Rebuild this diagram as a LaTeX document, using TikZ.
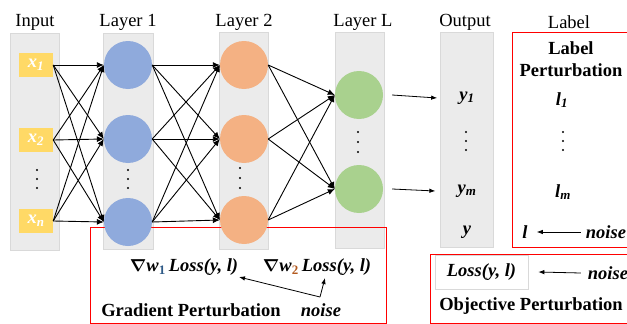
\documentclass[tikz,border=0pt]{standalone}
\usepackage{fontspec}
\setmainfont{Liberation Serif}
\usepackage{bm}
\usetikzlibrary{arrows}
\usetikzlibrary{arrows.meta}
\usetikzlibrary{shapes.geometric}

\definecolor{colfill}{HTML}{EBEBEB}
\definecolor{colline}{HTML}{D9D9D9}
\definecolor{inyellow}{HTML}{FFD966}
\definecolor{lblue}{HTML}{8FAADC}
\definecolor{lorange}{HTML}{F4B183}
\definecolor{lgreen}{HTML}{A9D18E}
\definecolor{subblue}{HTML}{2E5A87}
\definecolor{suborange}{HTML}{B35A1F}

\begin{document}
\begin{tikzpicture}
[every node/.style={inner sep=0pt, font=\fontsize{18.5}{20}\selectfont}]
\useasboundingbox (0pt,0pt) rectangle (627pt,-324pt);
% grey columns
\node (c1) [rectangle, minimum width=49pt, minimum height=217pt, fill=colfill, draw=colline, line width=0.6pt] at (34.5pt, -141.5pt) {};
\node (c2) [rectangle, minimum width=50pt, minimum height=216pt, fill=colfill, draw=colline, line width=0.6pt] at (128.0pt, -141.0pt) {};
\node (c3) [rectangle, minimum width=49pt, minimum height=217pt, fill=colfill, draw=colline, line width=0.6pt] at (243.5pt, -140.5pt) {};
\node (c4) [rectangle, minimum width=49pt, minimum height=216pt, fill=colfill, draw=colline, line width=0.6pt] at (359.5pt, -140.0pt) {};
\node (c5) [rectangle, minimum width=53pt, minimum height=215pt, fill=colfill, draw=colline, line width=0.6pt] at (466.5pt, -139.5pt) {};
% red frames
\draw [line width=0.8pt, color=red] (512pt, -32pt) rectangle (640pt, -247pt);
\draw [line width=0.8pt, color=red] (90pt, -227pt) rectangle (386pt, -323pt);
\draw [line width=0.8pt, color=red] (430pt, -254pt) rectangle (640pt, -323pt);
% headers
\node (h1) at (35.0pt, -22.0pt) {Input};
\node (h2) at (128.0pt, -22.0pt) {Layer 1};
\node (h3) at (244.0pt, -22.0pt) {Layer 2};
\node (h4) at (363.0pt, -22.0pt) {Layer L};
\node (h5) at (465.0pt, -22.0pt) {Output};
\node (h6) at (569.0pt, -22.0pt) {Label};
% inputs
\node (1) [rectangle, minimum width=34pt, minimum height=24pt, fill=inyellow] at (36.0pt, -65.0pt) {\textcolor{white}{\textbf{\textit{x}\textsubscript{\textit{1}}}}};
\node (2) [rectangle, minimum width=34pt, minimum height=24pt, fill=inyellow] at (36.0pt, -140.0pt) {\textcolor{white}{\textbf{\textit{x}\textsubscript{\textit{2}}}}};
\node (3) [rectangle, minimum width=34pt, minimum height=24pt, fill=inyellow] at (36.0pt, -221.0pt) {\textcolor{white}{\textbf{\textit{x}\textsubscript{\textit{n}}}}};
% layer 1
\node (4) [circle, minimum size=48pt, fill=lblue] at (128.0pt, -65.0pt) {};
\node (5) [circle, minimum size=48pt, fill=lblue] at (128.0pt, -139.0pt) {};
\node (6) [circle, minimum size=48pt, fill=lblue] at (128.0pt, -222.0pt) {};
% layer 2
\node (7) [circle, minimum size=48pt, fill=lorange] at (244.0pt, -65.0pt) {};
\node (8) [circle, minimum size=48pt, fill=lorange] at (244.0pt, -139.0pt) {};
\node (9) [circle, minimum size=48pt, fill=lorange] at (244.0pt, -220.0pt) {};
% layer L
\node (10) [circle, minimum size=48pt, fill=lgreen] at (359.0pt, -95.0pt) {};
\node (11) [circle, minimum size=48pt, fill=lgreen] at (359.0pt, -189.0pt) {};
% dots
\fill [black] (37pt, -170pt) circle (1.2pt) (37pt, -179pt) circle (1.2pt) (37pt, -188pt) circle (1.2pt);
\fill [black] (128pt, -170pt) circle (1.2pt) (128pt, -179pt) circle (1.2pt) (128pt, -188pt) circle (1.2pt);
\fill [black] (240pt, -168pt) circle (1.2pt) (240pt, -178pt) circle (1.2pt) (240pt, -188pt) circle (1.2pt);
\fill [black] (358pt, -132pt) circle (1.2pt) (358pt, -142pt) circle (1.2pt) (358pt, -152pt) circle (1.2pt);
\fill [black] (466pt, -132pt) circle (1.2pt) (466pt, -141pt) circle (1.2pt) (466pt, -150pt) circle (1.2pt);
\fill [black] (563pt, -132pt) circle (1.2pt) (563pt, -141pt) circle (1.2pt) (563pt, -150pt) circle (1.2pt);
% connections
\draw [line width=0.9pt, -{Latex[length=7pt,width=6pt]}, color=black] (1.east) -- (4.west);
\draw [line width=0.9pt, -{Latex[length=7pt,width=6pt]}, color=black] (1.east) -- (5.west);
\draw [line width=0.9pt, -{Latex[length=7pt,width=6pt]}, color=black] (1.east) -- (6.west);
\draw [line width=0.9pt, -{Latex[length=7pt,width=6pt]}, color=black] (2.east) -- (4.west);
\draw [line width=0.9pt, -{Latex[length=7pt,width=6pt]}, color=black] (2.east) -- (5.west);
\draw [line width=0.9pt, -{Latex[length=7pt,width=6pt]}, color=black] (2.east) -- (6.west);
\draw [line width=0.9pt, -{Latex[length=7pt,width=6pt]}, color=black] (3.east) -- (4.west);
\draw [line width=0.9pt, -{Latex[length=7pt,width=6pt]}, color=black] (3.east) -- (5.west);
\draw [line width=0.9pt, -{Latex[length=7pt,width=6pt]}, color=black] (3.east) -- (6.west);
\draw [line width=0.9pt, -{Latex[length=7pt,width=6pt]}, color=black] (4.east) -- (7.west);
\draw [line width=0.9pt, -{Latex[length=7pt,width=6pt]}, color=black] (4.east) -- (8.west);
\draw [line width=0.9pt, -{Latex[length=7pt,width=6pt]}, color=black] (4.east) -- (9.west);
\draw [line width=0.9pt, -{Latex[length=7pt,width=6pt]}, color=black] (5.east) -- (7.west);
\draw [line width=0.9pt, -{Latex[length=7pt,width=6pt]}, color=black] (5.east) -- (8.west);
\draw [line width=0.9pt, -{Latex[length=7pt,width=6pt]}, color=black] (5.east) -- (9.west);
\draw [line width=0.9pt, -{Latex[length=7pt,width=6pt]}, color=black] (6.east) -- (7.west);
\draw [line width=0.9pt, -{Latex[length=7pt,width=6pt]}, color=black] (6.east) -- (8.west);
\draw [line width=0.9pt, -{Latex[length=7pt,width=6pt]}, color=black] (6.east) -- (9.west);
\draw [line width=0.9pt, -{Latex[length=7pt,width=6pt]}, color=black] (7.east) -- (10.west);
\draw [line width=0.9pt, -{Latex[length=7pt,width=6pt]}, color=black] (7.east) -- (11.west);
\draw [line width=0.9pt, -{Latex[length=7pt,width=6pt]}, color=black] (8.east) -- (10.west);
\draw [line width=0.9pt, -{Latex[length=7pt,width=6pt]}, color=black] (8.east) -- (11.west);
\draw [line width=0.9pt, -{Latex[length=7pt,width=6pt]}, color=black] (9.east) -- (10.west);
\draw [line width=0.9pt, -{Latex[length=7pt,width=6pt]}, color=black] (9.east) -- (11.west);
% outputs
\node (12) at (467.0pt, -98.0pt) {\textbf{\textit{y}\textsubscript{\textit{1}}}};
\node (13) at (467.0pt, -191.0pt) {\textbf{\textit{y}\textsubscript{\textit{m}}}};
\node (14) at (467.0pt, -232.0pt) {\textbf{\textit{y}}};
\draw [line width=0.8pt, -{Latex[length=6pt,width=4.5pt]}, color=black] ([xshift=9pt]10.east) -- ([xshift=-22pt]12.west);
\draw [line width=0.8pt, -{Latex[length=6pt,width=4.5pt]}, color=black] ([xshift=9pt]11.east) -- ([xshift=-22pt]13.west);
% label perturbation
\node (15) [align=center, font=\fontsize{18.5}{22}\selectfont\bfseries] at (571.0pt, -59.0pt) {Label\\Perturbation};
\node (16) at (562.0pt, -100.0pt) {\textbf{\textit{l}\textsubscript{\textit{1}}}};
\node (17) at (563.0pt, -192.0pt) {\textbf{\textit{l}\textsubscript{\textit{m}}}};
\node (18) at (525.0pt, -232.0pt) {\textbf{\textit{l}}};
\node (19) at (606.0pt, -232.0pt) {\textbf{\textit{noise}}};
\draw [line width=0.8pt, -{Latex[length=6pt,width=4.5pt]}, color=black] ([xshift=-5pt]19.west) -- ([xshift=9pt]18.east);
% gradient perturbation
\node (20) at (184.0pt, -267.0pt) {$\bm{\nabla}$\textbf{\textit{w}\textsubscript{\textcolor{subblue}{1}}\,\textit{Loss(y, l)}}};
\node (21) at (317.0pt, -267.0pt) {$\bm{\nabla}$\textbf{\textit{w}\textsubscript{\textcolor{suborange}{2}}\,\textit{Loss(y, l)}}};
\node (22) at (191.0pt, -310.0pt) {\textbf{Gradient Perturbation}};
\node (23) at (321.0pt, -310.0pt) {\textbf{\textit{noise}}};
\coordinate (24) at (320.0pt, -297.0pt);
\draw [line width=0.8pt, -{Latex[length=6pt,width=4.5pt]}, color=black] (24) -- (239.0pt, -277.0pt);
\draw [line width=0.8pt, -{Latex[length=6pt,width=4.5pt]}, color=black] (24) -- (325.0pt, -278.0pt);
% objective perturbation
\node (25) [rectangle, minimum width=93pt, minimum height=34pt, fill=white, draw=colline, line width=0.6pt] at (481.5pt, -272.0pt) {\textbf{\textit{Loss(y, l)}}};
\node (26) at (608.0pt, -273.0pt) {\textbf{\textit{noise}}};
\draw [line width=0.8pt, -{Latex[length=6pt,width=4.5pt]}, color=black] ([xshift=-7pt]26.west) -- ([xshift=10pt]25.east);
\node (27) at (531.0pt, -306.0pt) {\textbf{Objective Perturbation}};
\end{tikzpicture}
\end{document}
